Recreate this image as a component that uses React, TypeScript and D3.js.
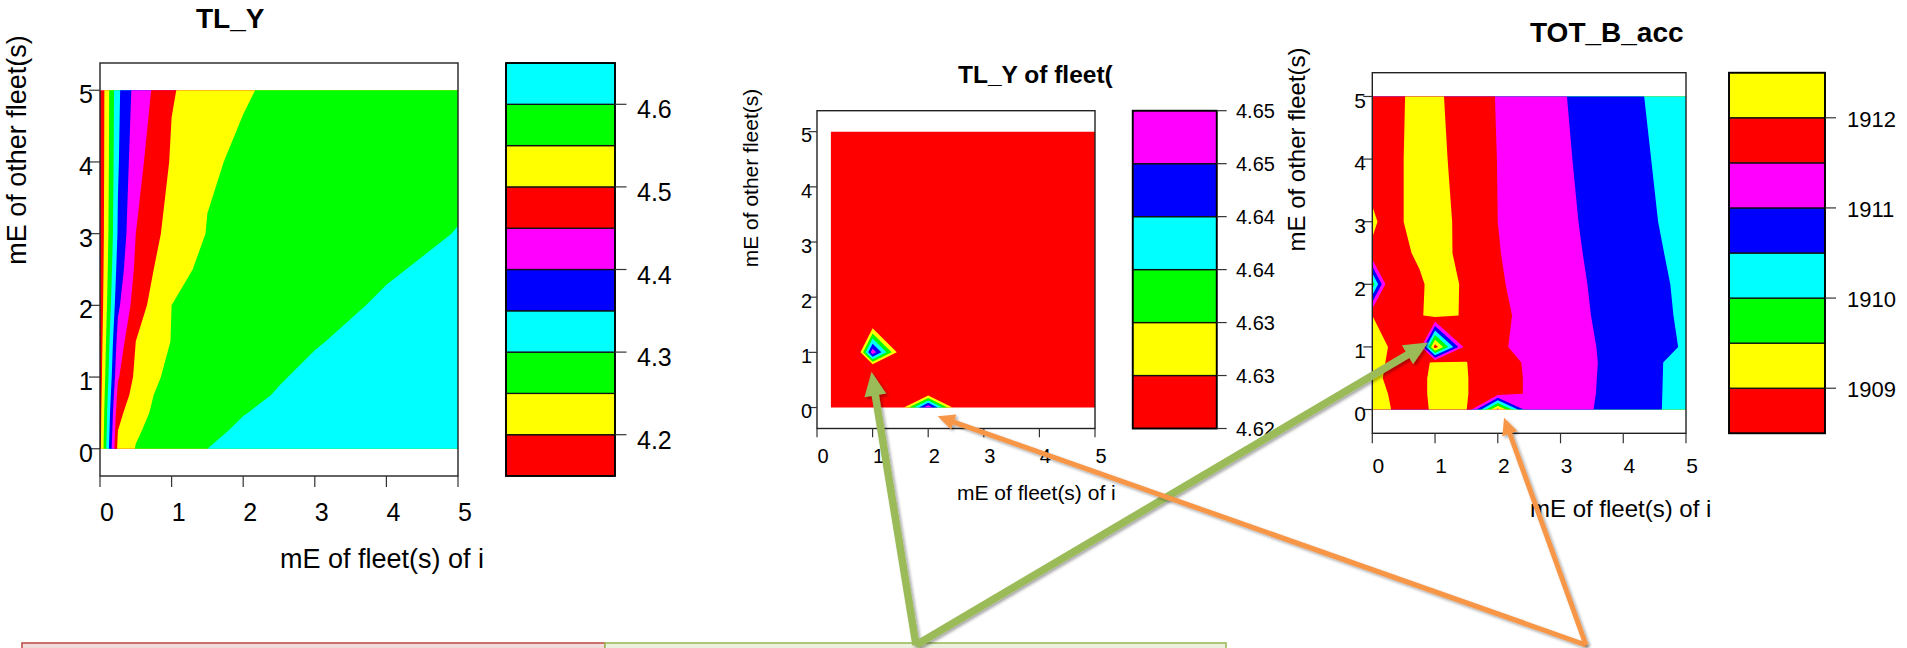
import React, { useMemo } from "react";
import * as d3 from "d3";

const W = 1907;
const H = 648;
const FONT = "'Liberation Sans', Arial, Helvetica, sans-serif";

// R filled.contour colour cycle
const PALETTE = ["#FF0000", "#FFFF00", "#00FF00", "#00FFFF", "#0000FF", "#FF00FF"];
const AXIS_TICKS = [0, 1, 2, 3, 4, 5];
const X_TITLE = "mE of fleet(s) of i";
const Y_TITLE = "mE of other fleet(s)";

// grid of effort multipliers
const GRID_X = [0, 0.25, 0.5, 0.75, 1, 1.5, 2, 2.5, 3, 4, 5];
const GRID_Y = [0, 0.25, 0.5, 0.75, 1, 1.5, 2, 2.5, 3, 4, 5];
const FLEET_GRID_X = [0.25, 0.5, 0.75, 1, 1.5, 2, 2.5, 3, 4, 5];

// ---------- panel 1 : TL_Y ----------
const TLY_TITLE = "TL_Y";
const TLY_LEVELS = [4.15, 4.2, 4.25, 4.3, 4.35, 4.4, 4.45, 4.5, 4.55, 4.6, 4.65];
const TLY_TICKS = [4.2, 4.3, 4.4, 4.5, 4.6];
const TLY_TICK_LABELS = ["4.2", "4.3", "4.4", "4.5", "4.6"];
const TLY_VALUES = [
  [4.185, 4.515, 4.552, 4.565, 4.575, 4.6, 4.61, 4.617, 4.622, 4.628, 4.633],
  [4.18, 4.5, 4.545, 4.56, 4.57, 4.593, 4.605, 4.612, 4.618, 4.625, 4.631],
  [4.178, 4.485, 4.535, 4.555, 4.565, 4.585, 4.599, 4.607, 4.614, 4.622, 4.629],
  [4.174, 4.465, 4.52, 4.55, 4.56, 4.578, 4.593, 4.602, 4.61, 4.619, 4.627],
  [4.17, 4.445, 4.51, 4.546, 4.556, 4.571, 4.587, 4.598, 4.606, 4.617, 4.625],
  [4.165, 4.42, 4.5, 4.535, 4.551, 4.565, 4.578, 4.59, 4.598, 4.611, 4.621],
  [4.16, 4.39, 4.475, 4.515, 4.55, 4.56, 4.57, 4.58, 4.59, 4.604, 4.615],
  [4.158, 4.37, 4.46, 4.5, 4.54, 4.557, 4.564, 4.574, 4.584, 4.597, 4.608],
  [4.157, 4.355, 4.45, 4.49, 4.515, 4.552, 4.559, 4.567, 4.576, 4.59, 4.601],
  [4.156, 4.345, 4.435, 4.468, 4.505, 4.545, 4.556, 4.561, 4.567, 4.58, 4.592],
  [4.155, 4.34, 4.42, 4.455, 4.497, 4.52, 4.547, 4.556, 4.562, 4.574, 4.585],
];

// ---------- panel 2 : TL_Y of fleet( ----------
const FLEET_TITLE = "TL_Y of fleet(";
const FLEET_LEVELS = [4.6225, 4.6275, 4.6325, 4.6375, 4.6425, 4.6475, 4.6525];
const FLEET_TICK_LABELS = ["4.62", "4.63", "4.63", "4.64", "4.64", "4.65", "4.65"];
const FLEET_VALUES = [
  [4.624, 4.624, 4.624, 4.624, 4.624, 4.652, 4.624, 4.624, 4.624, 4.624],
  [4.624, 4.624, 4.624, 4.624, 4.624, 4.624, 4.624, 4.624, 4.624, 4.624],
  [4.624, 4.624, 4.624, 4.624, 4.624, 4.624, 4.624, 4.624, 4.624, 4.624],
  [4.624, 4.624, 4.624, 4.624, 4.624, 4.624, 4.624, 4.624, 4.624, 4.624],
  [4.624, 4.624, 4.624, 4.651, 4.624, 4.624, 4.624, 4.624, 4.624, 4.624],
  [4.624, 4.624, 4.624, 4.624, 4.624, 4.624, 4.624, 4.624, 4.624, 4.624],
  [4.624, 4.624, 4.624, 4.624, 4.624, 4.624, 4.624, 4.624, 4.624, 4.624],
  [4.624, 4.624, 4.624, 4.624, 4.624, 4.624, 4.624, 4.624, 4.624, 4.624],
  [4.624, 4.624, 4.624, 4.624, 4.624, 4.624, 4.624, 4.624, 4.624, 4.624],
  [4.624, 4.624, 4.624, 4.624, 4.624, 4.624, 4.624, 4.624, 4.624, 4.624],
  [4.624, 4.624, 4.624, 4.624, 4.624, 4.624, 4.624, 4.624, 4.624, 4.624],
];

// ---------- panel 3 : TOT_B_acc ----------
const TOTB_TITLE = "TOT_B_acc";
const TOTB_LEVELS = [1908.5, 1909, 1909.5, 1910, 1910.5, 1911, 1911.5, 1912, 1912.5];
const TOTB_TICKS = [1909, 1910, 1911, 1912];
const TOTB_TICK_LABELS = ["1909", "1910", "1911", "1912"];
const TOTB_VALUES = [
  [1912.1, 1912.05, 1911.8, 1911.85, 1912.1, 1912.03, 1908.8, 1911.45, 1911.2, 1910.82, 1910.3],
  [1912.1, 1912.0, 1911.8, 1911.9, 1912.1, 1912.02, 1911.7, 1911.45, 1911.22, 1910.83, 1910.3],
  [1912.1, 1911.95, 1911.8, 1911.9, 1912.1, 1912.02, 1911.7, 1911.45, 1911.22, 1910.84, 1910.3],
  [1912.1, 1911.98, 1911.8, 1911.9, 1912.05, 1912.01, 1911.65, 1911.45, 1911.22, 1910.85, 1910.3],
  [1912.1, 1912.0, 1911.8, 1911.85, 1908.7, 1911.8, 1911.55, 1911.4, 1911.2, 1910.85, 1910.45],
  [1912.0, 1911.8, 1911.8, 1911.95, 1912.15, 1911.95, 1911.6, 1911.38, 1911.17, 1910.82, 1910.42],
  [1909.7, 1911.85, 1911.9, 1911.95, 1912.1, 1911.97, 1911.55, 1911.35, 1911.15, 1910.8, 1910.4],
  [1911.95, 1911.85, 1911.95, 1912.05, 1912.1, 1911.92, 1911.52, 1911.32, 1911.12, 1910.78, 1910.35],
  [1912.05, 1911.9, 1912.0, 1912.12, 1912.12, 1911.9, 1911.5, 1911.32, 1911.1, 1910.75, 1910.3],
  [1911.85, 1911.93, 1912.0, 1912.1, 1912.1, 1911.85, 1911.49, 1911.3, 1911.07, 1910.7, 1910.25],
  [1911.85, 1911.93, 1911.99, 1912.1, 1912.08, 1911.8, 1911.47, 1911.27, 1911.04, 1910.65, 1910.2],
];

const X_DOMAIN = [0, 5];
const Y_DOMAIN = [-0.38, 5.38];

type Layout = {
  box: [number, number, number, number];
  legend: [number, number];
  yTickLen: number;
  xTickLen: number;
  tickFont: number;
  yTickLabelX: number;
  yTickDy: number;
  xTickDx: number;
  xTickBaseline: number;
  labelFont: number;
  xTitle: [number, number];
  yTitle: [number, number];
  titleFont: number;
  title: [number, number];
  legendTickLen: number;
  legendLabelX: number;
  legendLabelDy: number;
  legendFont: number;
};

type Panel = {
  key: string;
  title: string;
  xs: number[];
  ys: number[];
  values: number[][];
  levels: number[];
  ticks: number[];
  tickLabels: string[];
  layout: Layout;
};

const PANELS: Panel[] = [
  {
    key: "tly",
    title: TLY_TITLE,
    xs: GRID_X,
    ys: GRID_Y,
    values: TLY_VALUES,
    levels: TLY_LEVELS,
    ticks: TLY_TICKS,
    tickLabels: TLY_TICK_LABELS,
    layout: {
      box: [100, 63, 458, 476],
      legend: [506, 615],
      yTickLen: 11,
      xTickLen: 11,
      tickFont: 25,
      yTickLabelX: 93,
      yTickDy: 13,
      xTickDx: 7,
      xTickBaseline: 521,
      labelFont: 27,
      xTitle: [280, 568],
      yTitle: [26, 150],
      titleFont: 28,
      title: [196, 28],
      legendTickLen: 11.5,
      legendLabelX: 637,
      legendLabelDy: 14,
      legendFont: 25,
    },
  },
  {
    key: "fleet",
    title: FLEET_TITLE,
    xs: FLEET_GRID_X,
    ys: GRID_Y,
    values: FLEET_VALUES,
    levels: FLEET_LEVELS,
    ticks: FLEET_LEVELS,
    tickLabels: FLEET_TICK_LABELS,
    layout: {
      box: [817, 110.7, 1095, 428.5],
      legend: [1132.7, 1216.7],
      yTickLen: 8.6,
      xTickLen: 8.7,
      tickFont: 20,
      yTickLabelX: 812,
      yTickDy: 10.7,
      xTickDx: 6,
      xTickBaseline: 463,
      labelFont: 21,
      xTitle: [957, 500],
      yTitle: [758, 178],
      titleFont: 24.5,
      title: [958, 83.3],
      legendTickLen: 10,
      legendLabelX: 1236,
      legendLabelDy: 7.6,
      legendFont: 20,
    },
  },
  {
    key: "totb",
    title: TOTB_TITLE,
    xs: GRID_X,
    ys: GRID_Y,
    values: TOTB_VALUES,
    levels: TOTB_LEVELS,
    ticks: TOTB_TICKS,
    tickLabels: TOTB_TICK_LABELS,
    layout: {
      box: [1372.3, 72.7, 1686, 433.3],
      legend: [1729, 1825],
      yTickLen: 9,
      xTickLen: 10,
      tickFont: 21,
      yTickLabelX: 1366,
      yTickDy: 11.3,
      xTickDx: 6,
      xTickBaseline: 473,
      labelFont: 24,
      xTitle: [1530, 516.7],
      yTitle: [1305, 149.5],
      titleFont: 28,
      title: [1530, 41.7],
      legendTickLen: 11,
      legendLabelX: 1847,
      legendLabelDy: 9,
      legendFont: 22,
    },
  },
];

function scalesFor(p: Panel) {
  const [x0, y0, x1, y1] = p.layout.box;
  const x = d3.scaleLinear().domain(X_DOMAIN).range([x0, x1]);
  const y = d3.scaleLinear().domain(Y_DOMAIN).range([y1, y0]);
  const leg = d3
    .scaleLinear()
    .domain([p.levels[0], p.levels[p.levels.length - 1]])
    .range([y1, y0]);
  return { x, y, leg };
}

function bandPaths(p: Panel) {
  const { x, y } = scalesFor(p);
  const nx = p.xs.length;
  const ny = p.ys.length;
  const flat: number[] = [];
  for (let j = 0; j < ny; j++) for (let i = 0; i < nx; i++) flat.push(p.values[j][i]);
  const ix = d3.scaleLinear().domain(p.xs.map((_, i) => i)).range(p.xs).clamp(true);
  const iy = d3.scaleLinear().domain(p.ys.map((_, i) => i)).range(p.ys).clamp(true);
  const polys = d3
    .contours()
    .size([nx, ny])
    .thresholds(p.levels.slice(0, -1))(flat);
  const proj = d3.geoTransform({
    point: function (px: number, py: number) {
      (this as any).stream.point(x(ix(px - 0.5)), y(iy(py - 0.5)));
    },
  });
  const path = d3.geoPath(proj as any);
  return polys.map((poly, k) => ({ d: path(poly as any) || "", color: PALETTE[k % PALETTE.length] }));
}

function PanelView({ p }: { p: Panel }) {
  const L = p.layout;
  const { x, y, leg } = scalesFor(p);
  const bands = useMemo(() => bandPaths(p), [p]);
  const [bx0, by0, bx1, by1] = L.box;
  const clipId = `clip-${p.key}`;
  return (
    <g fontFamily={FONT} fill="#000">
      <defs>
        <clipPath id={clipId}>
          <rect x={bx0} y={by0} width={bx1 - bx0} height={by1 - by0} />
        </clipPath>
      </defs>
      <g clipPath={`url(#${clipId})`}>
        {bands.map((b, i) => (
          <path key={i} d={b.d} fill={b.color} stroke="none" />
        ))}
      </g>
      <rect x={bx0} y={by0} width={bx1 - bx0} height={by1 - by0} fill="none" stroke="#222" strokeWidth={1.4} />
      {AXIS_TICKS.map((t) => (
        <g key={`y${t}`}>
          <line x1={bx0 - L.yTickLen} x2={bx0} y1={y(t)} y2={y(t)} stroke="#333" strokeWidth={1.2} />
          <text x={L.yTickLabelX} y={y(t) + L.yTickDy} fontSize={L.tickFont} textAnchor="end">
            {t}
          </text>
        </g>
      ))}
      {AXIS_TICKS.map((t) => (
        <g key={`x${t}`}>
          <line x1={x(t)} x2={x(t)} y1={by1} y2={by1 + L.xTickLen} stroke="#333" strokeWidth={1.2} />
          <text x={x(t) + L.xTickDx} y={L.xTickBaseline} fontSize={L.tickFont} textAnchor="middle">
            {t}
          </text>
        </g>
      ))}
      <text x={L.xTitle[0]} y={L.xTitle[1]} fontSize={L.labelFont}>
        {X_TITLE}
      </text>
      <text
        transform={`translate(${L.yTitle[0]},${L.yTitle[1]}) rotate(-90)`}
        fontSize={L.labelFont}
        textAnchor="middle"
      >
        {Y_TITLE}
      </text>
      <text x={L.title[0]} y={L.title[1]} fontSize={L.titleFont} fontWeight="bold">
        {p.title}
      </text>
      {/* colour key */}
      {p.levels.slice(0, -1).map((lv, k) => (
        <rect
          key={`k${k}`}
          x={L.legend[0]}
          y={leg(p.levels[k + 1])}
          width={L.legend[1] - L.legend[0]}
          height={leg(lv) - leg(p.levels[k + 1])}
          fill={PALETTE[k % PALETTE.length]}
          stroke="#111"
          strokeWidth={1.3}
        />
      ))}
      <rect
        x={L.legend[0]}
        y={by0}
        width={L.legend[1] - L.legend[0]}
        height={by1 - by0}
        fill="none"
        stroke="#000"
        strokeWidth={1.8}
      />
      {p.ticks.map((t, i) => (
        <g key={`l${i}`}>
          <line
            x1={L.legend[1]}
            x2={L.legend[1] + L.legendTickLen}
            y1={leg(t)}
            y2={leg(t)}
            stroke="#333"
            strokeWidth={1.2}
          />
          <text x={L.legendLabelX} y={leg(t) + L.legendLabelDy} fontSize={L.legendFont}>
            {p.tickLabels[i]}
          </text>
        </g>
      ))}
    </g>
  );
}

// call-out arrows: start points on the text boxes, tips at data positions in panels
const GREEN_START: [number, number] = [916, 645];
const ORANGE_START: [number, number] = [1586, 645];
const GREEN_TIPS = [
  { panel: 1, at: [0.98, 0.65] },
  { panel: 2, at: [0.89, 1.07] },
];
const ORANGE_TIPS = [
  { panel: 1, at: [2.17, -0.16] },
  { panel: 2, at: [2.1, -0.13] },
];

function Arrow({
  from,
  to,
  color,
  width,
  headLen,
  headWidth,
}: {
  from: [number, number];
  to: [number, number];
  color: string;
  width: number;
  headLen: number;
  headWidth: number;
}) {
  const dx = to[0] - from[0];
  const dy = to[1] - from[1];
  const len = Math.hypot(dx, dy);
  const ux = dx / len;
  const uy = dy / len;
  const bx = to[0] - ux * headLen;
  const by = to[1] - uy * headLen;
  const px = -uy;
  const py = ux;
  const head = [
    [to[0], to[1]],
    [bx + (px * headWidth) / 2, by + (py * headWidth) / 2],
    [bx - (px * headWidth) / 2, by - (py * headWidth) / 2],
  ];
  return (
    <g filter="url(#shadow)">
      <line
        x1={from[0]}
        y1={from[1]}
        x2={bx + ux * 2}
        y2={by + uy * 2}
        stroke={color}
        strokeWidth={width}
        strokeLinecap="butt"
      />
      <polygon points={head.map((q) => q.join(",")).join(" ")} fill={color} />
    </g>
  );
}

export default function App() {
  const scales = PANELS.map(scalesFor);
  const tip = (t: { panel: number; at: number[] }): [number, number] => [
    scales[t.panel].x(t.at[0]),
    scales[t.panel].y(t.at[1]),
  ];
  return (
    <svg
      width={W}
      height={H}
      viewBox={`0 0 ${W} ${H}`}
      style={{ position: "absolute", left: 0, top: 0, background: "#fff", display: "block" }}
    >
      <defs>
        <filter id="shadow" filterUnits="userSpaceOnUse" x={0} y={0} width={W} height={H}>
          <feDropShadow dx={2} dy={2} stdDeviation={1.6} floodColor="#000" floodOpacity={0.35} />
        </filter>
      </defs>
      <rect x={0} y={0} width={W} height={H} fill="#fff" />
      {PANELS.map((p) => (
        <PanelView key={p.key} p={p} />
      ))}
      {/* text boxes at the bottom */}
      <rect x={22} y={643} width={583} height={30} fill="#f2dcdb" stroke="#c0504d" strokeWidth={1.6} />
      <rect x={605} y={643} width={621} height={30} fill="#ebf1de" stroke="#9bbb59" strokeWidth={1.6} />
      {GREEN_TIPS.map((t, i) => (
        <Arrow key={`g${i}`} from={GREEN_START} to={tip(t)} color="#9bbb59" width={7.5} headLen={24} headWidth={22} />
      ))}
      {ORANGE_TIPS.map((t, i) => (
        <Arrow key={`o${i}`} from={ORANGE_START} to={tip(t)} color="#f79646" width={5} headLen={17} headWidth={16} />
      ))}
    </svg>
  );
}
